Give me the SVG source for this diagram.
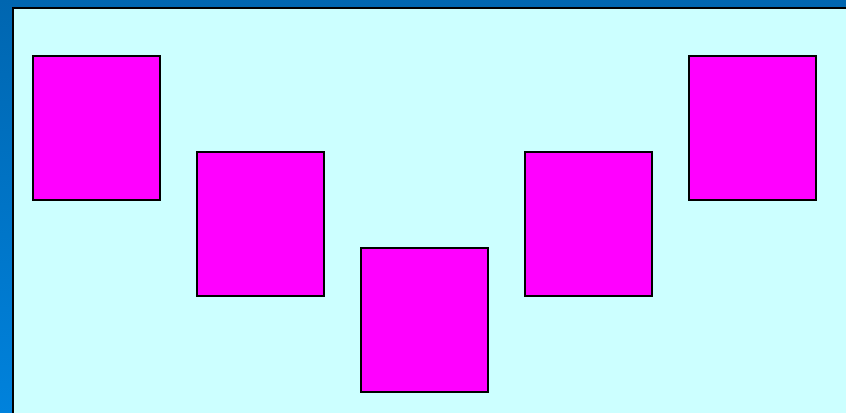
<svg xmlns="http://www.w3.org/2000/svg" width="846" height="413" viewBox="0 0 846 413">
<defs>
<linearGradient id="bg" x1="0" y1="0" x2="0" y2="1">
<stop offset="0" stop-color="#0066B0"/>
<stop offset="1" stop-color="#0082DC"/>
</linearGradient>
<style>
.box{fill:#FF00FF;stroke:#000;stroke-width:2}
</style>
</defs>
<rect x="0" y="0" width="846" height="413" fill="url(#bg)"/>
<rect x="13" y="8" width="840" height="420" fill="#CCFFFF" stroke="#000" stroke-width="2"/>
<g id="box1"><rect class="box" x="33" y="56" width="127" height="144"/></g>
<g id="box2"><rect class="box" x="197" y="152" width="127" height="144"/></g>
<g id="box3"><rect class="box" x="361" y="248" width="127" height="144"/></g>
<g id="box4"><rect class="box" x="525" y="152" width="127" height="144"/></g>
<g id="box5"><rect class="box" x="689" y="56" width="127" height="144"/></g>
<g id="connectors"></g>
</svg>
